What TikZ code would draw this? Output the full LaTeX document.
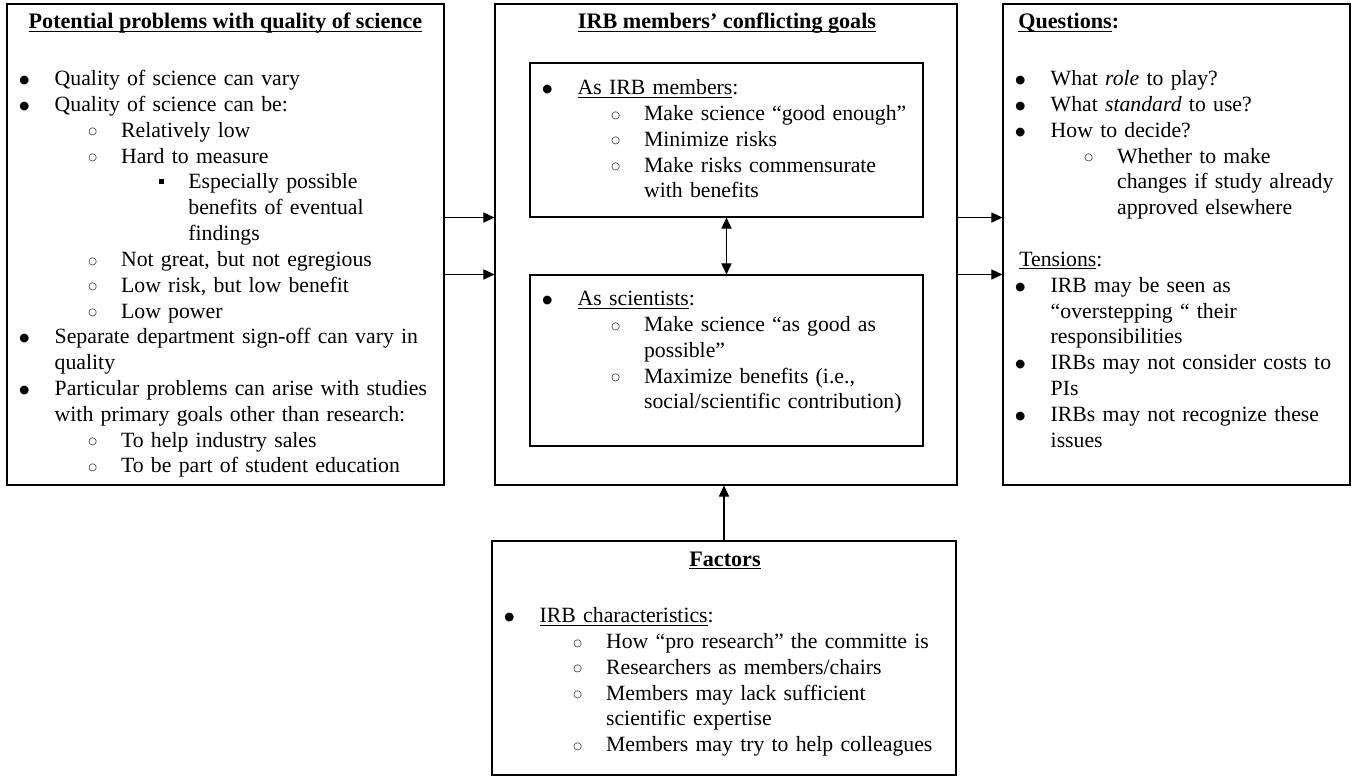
\documentclass[tikz,border=0pt]{standalone}
\usepackage{fontspec}
\setmainfont{Liberation Serif}
\newfontfamily\symfont{DejaVu Sans}
\usepackage{tikz}
\usetikzlibrary{arrows.meta}

\newcommand{\undl}[2][0.5pt]{\setbox0=\hbox{#2}\rlap{\rule[-1.6pt]{\wd0}{#1}}\box0}
\newcommand{\mrk}[3]{\llap{\setbox2=\hbox{#1}\raise\dimexpr#2-(\ht2-\dp2)/2\relax\box2\hskip#3}}
\newcommand{\dotmark}{{\symfont\fontsize{6.2pt}{6pt}\selectfont ●}}
\newcommand{\ringmark}{{\symfont\fontsize{5.4pt}{6pt}\selectfont ○}}
\newcommand{\lone}{\par\leftskip=17pt\noindent\mrk{\dotmark}{2.7pt}{13.8pt}}
\newcommand{\ltwo}{\par\leftskip=53pt\noindent\mrk{\ringmark}{2.7pt}{13pt}}
\newcommand{\lthree}{\par\leftskip=89.5pt\noindent\mrk{\rule{2.7pt}{2.7pt}}{4.3pt}{13pt}}

\begin{document}
\begin{tikzpicture}[x=0.5423pt, y=-0.5423pt,
  box/.style={draw, line width=0.6pt, inner sep=0pt},
  txt/.style={anchor=north west, inner sep=0pt, text width=240pt, align=left,
              font=\fontsize{11.8pt}{14pt}\selectfont},
  ttl/.style={anchor=base, inner sep=0pt, font=\fontsize{12pt}{14pt}\selectfont\bfseries},
  arr/.style={-{Triangle[length=6pt,width=5.5pt]}, line width=0.6pt},
  dbl/.style={{Triangle[length=6pt,width=5.5pt]}-{Triangle[length=6pt,width=5.5pt]}, line width=0.6pt}
]
\useasboundingbox (0,0) rectangle (1353,777);

\node[box, minimum width=237pt, minimum height=260.8pt] (probs) at (225.5,244.5) {};
\node[box, minimum width=250.5pt, minimum height=260.8pt] (goals) at (726,244.5) {};
\node[box, minimum width=213.1pt, minimum height=83.5pt] (asirb) at (726.5,140) {};
\node[box, minimum width=213.1pt, minimum height=92.7pt] (assci) at (726.5,360.5) {};
\node[box, minimum width=188.2pt, minimum height=260.8pt] (quest) at (1176.5,244.5) {};
\node[box, minimum width=251.6pt, minimum height=126.9pt] (factors) at (724,658) {};

\node[ttl] (probsttl) at (225.5,29) {\undl[0.7pt]{Potential problems with quality of science}};
\node[ttl] (goalsttl) at (727,29) {\undl[0.7pt]{IRB members’ conflicting goals}};
\node[ttl, anchor=base west] (questttl) at (1018,29) {\undl[0.7pt]{Questions}:};
\node[ttl] (factorsttl) at (725,566.5) {\undl[0.7pt]{Factors}};

\node[txt] (probstxt) at (23,59.5) {%
  \lone Quality of science can vary
  \lone Quality of science can be:
  \ltwo Relatively low
  \ltwo Hard to measure
  \lthree Especially possible\newline benefits of eventual\newline findings
  \ltwo Not great, but not egregious
  \ltwo Low risk, but low benefit
  \ltwo Low power
  \lone Separate department sign-off can vary in\newline quality
  \lone Particular problems can arise with studies\newline with primary goals other than research:
  \ltwo To help industry sales
  \ltwo To be part of student education\par};

\node[txt] (asirbtxt) at (546,68.5) {%
  \lone \undl{As IRB members}:
  \ltwo Make science “good enough”
  \ltwo Minimize risks
  \ltwo Make risks commensurate\newline with benefits\par};

\node[txt] (asscitxt) at (546,279.5) {%
  \lone \undl{As scientists}:
  \ltwo Make science “as good as\newline possible”
  \ltwo Maximize benefits (i.e.,\newline social/scientific contribution)\par};

\node[txt] (questtxt) at (1019,59.5) {%
  \lone What \textit{role} to play?
  \lone What \textit{standard} to use?
  \lone How to decide?
  \ltwo Whether to make\newline changes if study already\newline approved elsewhere
  \par\vskip14pt\leftskip=0pt\noindent\undl{Tensions}:
  \lone IRB may be seen as\newline “overstepping “ their\newline responsibilities
  \lone IRBs may not consider costs to\newline PIs
  \lone IRBs may not recognize these\newline issues\par};

\node[txt] (factorstxt) at (508,596.5) {%
  \lone \undl{IRB characteristics}:
  \ltwo How “pro research” the committe is
  \ltwo Researchers as members/chairs
  \ltwo Members may lack sufficient\newline scientific expertise
  \ltwo Members may try to help colleagues\par};

\draw[arr] (probs.east |- asirb.south) -- (goals.west |- asirb.south);
\draw[arr] (probs.east |- assci.north) -- (goals.west |- assci.north);
\draw[arr] (goals.east |- asirb.south) -- (quest.west |- asirb.south);
\draw[arr] (goals.east |- assci.north) -- (quest.west |- assci.north);
\draw[dbl] (asirb.south) -- (assci.north);
\draw[arr] (factors.north) -- (factors.north |- goals.south);

\end{tikzpicture}
\end{document}
